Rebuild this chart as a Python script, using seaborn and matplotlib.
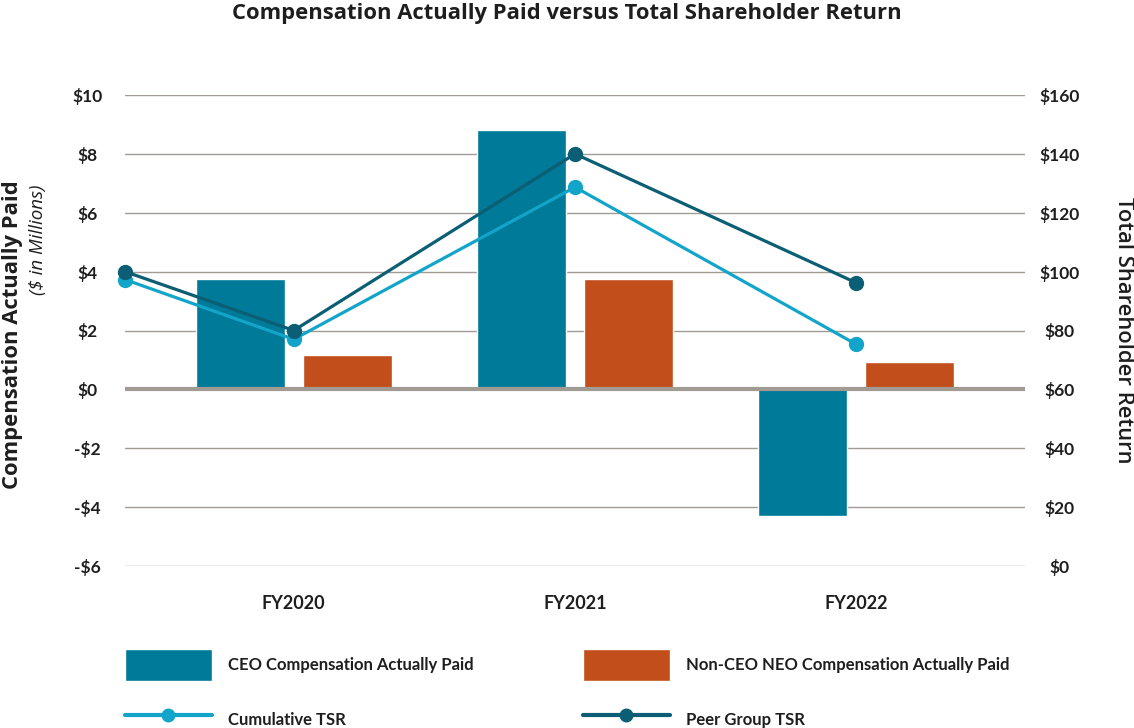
import numpy as np
import pandas as pd
import matplotlib
matplotlib.use("Agg")
import matplotlib.pyplot as plt
from matplotlib.patches import Patch
from matplotlib.lines import Line2D
import seaborn as sns

years = ["FY2020", "FY2021", "FY2022"]
ceo_cap = [3.76, 8.81, -4.30]
neo_cap = [1.18, 3.75, 0.94]

tsr_points = ["Start", "FY2020", "FY2021", "FY2022"]
cumulative_tsr = [97.3, 77.0, 128.7, 75.3]
peer_tsr = [100.0, 80.0, 140.0, 96.2]

left_ticks = [-6, -4, -2, 0, 2, 4, 6, 8, 10]
right_ticks = [0, 20, 40, 60, 80, 100, 120, 140, 160]

c_ceo = "#007a99"
c_neo = "#c24e1c"
c_cum = "#12a5c9"
c_peer = "#0b5e73"
c_grid = "#a19b93"
c_text = "#1e1e1e"

sns.set_style("white")
plt.rcParams["font.family"] = ["Lato", "DejaVu Sans"]

df = pd.DataFrame({
    "year": years * 2,
    "value": ceo_cap + neo_cap,
    "series": ["CEO"] * 3 + ["NEO"] * 3,
})

fig = plt.figure(figsize=(11.34, 7.28), dpi=100)
ax = fig.add_axes([125 / 1134, 1 - 566 / 728, 900 / 1134, (566 - 95) / 728])

sns.barplot(data=df, x="year", y="value", hue="series",
            palette={"CEO": c_ceo, "NEO": c_neo}, saturation=1,
            width=0.76, gap=0.17, legend=False, ax=ax, zorder=3)

x_min, x_max = -0.6, 2.6
ax.set_xlim(x_min, x_max)
ax.set_ylim(-6, 10)
ax.set_yticks(left_ticks)
ax.set_yticklabels([f"-${-t}" if t < 0 else f"${t}" for t in left_ticks])
ax.grid(axis="y", color=c_grid, linewidth=1.0, zorder=0)
ax.set_axisbelow(True)
ax.axhline(0, color=c_grid, linewidth=3, zorder=4)
for s in ax.spines.values():
    s.set_visible(False)
ax.set_xlabel("")
ax.set_ylabel("")
ax.tick_params(axis="y", length=0, pad=27)
ax.tick_params(axis="x", length=0, pad=21)
for lab in ax.get_yticklabels():
    lab.set_ha("center")
    lab.set_fontsize(12.5)
    lab.set_fontweight("bold")
    lab.set_color(c_text)
for lab in ax.get_xticklabels():
    lab.set_fontsize(13)
    lab.set_fontweight("bold")
    lab.set_color(c_text)

# TSR lines on the right axis, first point sits on the left edge (base year)
ax2 = ax.twinx()
pos = {"Start": x_min}
pos.update({y: i for i, y in enumerate(years)})
tx = [pos[p] for p in tsr_points]
sns.lineplot(x=tx, y=cumulative_tsr, ax=ax2, color=c_cum, linewidth=2.3,
             marker="o", markersize=11, markeredgewidth=0, clip_on=False)
sns.lineplot(x=tx, y=peer_tsr, ax=ax2, color=c_peer, linewidth=2.3,
             marker="o", markersize=11, markeredgewidth=0, clip_on=False)
ax2.set_xlim(x_min, x_max)
ax2.set_ylim(0, 160)
ax2.set_yticks(right_ticks)
ax2.set_yticklabels([f"${t}" for t in right_ticks])
for s in ax2.spines.values():
    s.set_visible(False)
ax2.tick_params(axis="y", length=0, pad=25)
for lab in ax2.get_yticklabels():
    lab.set_ha("center")
    lab.set_fontsize(12.5)
    lab.set_fontweight("bold")
    lab.set_color(c_text)

fig.text(0.5, 1 - 13 / 728, "Compensation Actually Paid versus Total Shareholder Return",
         ha="center", va="center", fontsize=15.8, fontweight="bold", color=c_text,
         family=["Open Sans", "DejaVu Sans"])
fig.text(13 / 1134, 1 - 335 / 728, "Compensation Actually Paid", rotation=90,
         ha="center", va="center", fontsize=15.8, fontweight="bold", color=c_text,
         family=["Open Sans", "DejaVu Sans"])
fig.text(38 / 1134, 1 - 240 / 728, "($ in Millions)", rotation=90,
         ha="center", va="center", fontsize=13.5, style="italic", color=c_text,
         family=["Open Sans", "DejaVu Sans"])
fig.text(1123 / 1134, 1 - 330 / 728, "Total Shareholder Return", rotation=270,
         ha="center", va="center", fontsize=15.8, fontweight="semibold", color=c_text,
         family=["Open Sans", "DejaVu Sans"])

leg_kw = dict(frameon=False, prop={"size": 12, "weight": "bold"}, handlelength=5.2,
              handleheight=2.57, labelspacing=1.4, handletextpad=1.0, borderaxespad=0,
              borderpad=0, labelcolor=c_text)
h1 = [Patch(facecolor=c_ceo), Line2D([], [], color=c_cum, linewidth=3, marker="o", markersize=9)]
h2 = [Patch(facecolor=c_neo), Line2D([], [], color=c_peer, linewidth=3, marker="o", markersize=9)]
l1 = fig.legend(h1, ["CEO Compensation Actually Paid", "Cumulative TSR"],
                loc="upper left", bbox_to_anchor=(125 / 1134, 1 - 649 / 728), **leg_kw)
l2 = fig.legend(h2, ["Non-CEO NEO Compensation Actually Paid", "Peer Group TSR"],
                loc="upper left", bbox_to_anchor=(583 / 1134, 1 - 649 / 728), **leg_kw)

fig.savefig("out.png", dpi=100)
